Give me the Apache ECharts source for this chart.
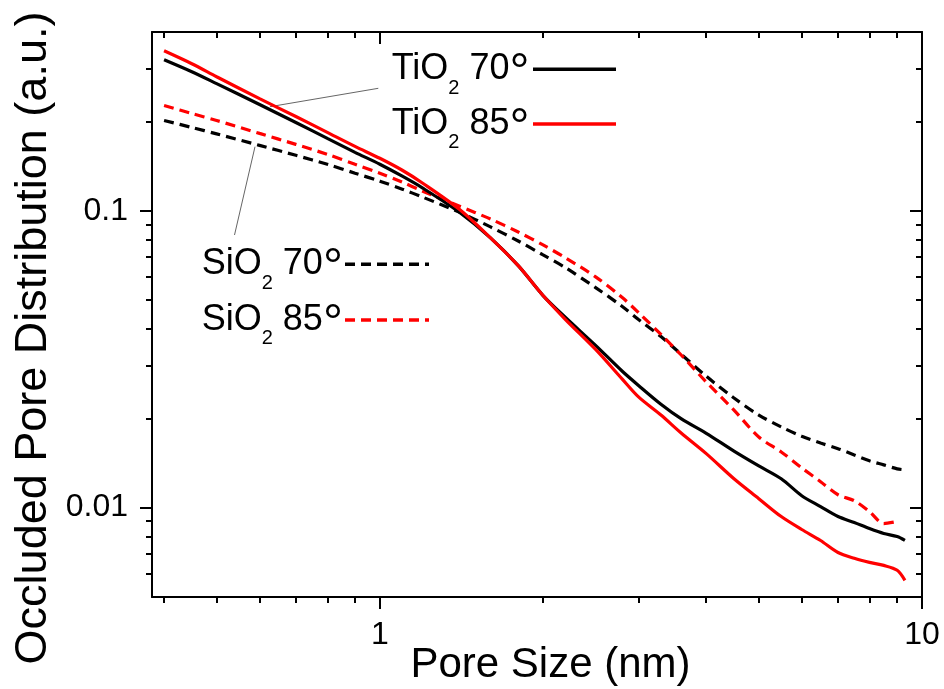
<!DOCTYPE html>
<html><head><meta charset="utf-8">
<script src="https://cdn.jsdelivr.net/npm/echarts@6/dist/echarts.min.js"></script>
<style>html,body{margin:0;padding:0;background:#fff}#c{width:944px;height:689px}</style>
</head><body><div id="c"></div>
<script>
// ---- data ----
const poreSize = [0.4,0.45,0.5,0.6,0.7,0.8,0.9,1.0,1.1,1.2,1.4,1.6,1.8,2.0,2.2,2.5,2.8,3.0,3.3,3.6,4.0,4.5,5.0,5.5,6.0,6.5,7.0,7.5,8.0,8.5,9.0,9.3];
const tio2_70 = [0.3225,0.2939,0.2680,0.2279,0.1983,0.1752,0.1573,0.1434,0.1307,0.1192,0.0990,0.0810,0.0653,0.0518,0.0437,0.0352,0.0288,0.0258,0.0223,0.0199,0.0178,0.0155,0.01382,0.01251,0.01097,0.01008,0.00933,0.00891,0.00850,0.00818,0.00799,0.00775];
const tio2_85 = [0.3457,0.3127,0.2828,0.2386,0.2077,0.1836,0.1647,0.1502,0.1369,0.1238,0.1013,0.0810,0.0653,0.0518,0.0430,0.0341,0.0271,0.0236,0.0205,0.0178,0.0152,0.01251,0.01072,0.00933,0.00844,0.00775,0.00706,0.00675,0.00654,0.00639,0.00615,0.00569];
const sio2_70 = [0.2014,0.1908,0.1815,0.1660,0.1537,0.1434,0.1338,0.1258,0.1182,0.1111,0.0990,0.0882,0.0791,0.0710,0.0643,0.0551,0.0476,0.0430,0.0377,0.0328,0.0277,0.0234,0.0205,0.0187,0.0174,0.0165,0.0158,0.01505,0.01438,0.01393,0.01351,0.01341];
const sio2_85 = [0.2261,0.2126,0.2014,0.1822,0.1673,0.1549,0.1434,0.1338,0.1248,0.1164,0.1037,0.0938,0.0848,0.0767,0.0694,0.0599,0.0510,0.0454,0.0383,0.0326,0.0265,0.0213,0.0173,0.0154,0.01361,0.01223,0.01105,0.01055,0.00970,0.00884,0.00898,null];
const xMajorTicks = [1, 10];
const xMinorTicks = [0.4,0.5,0.6,0.7,0.8,0.9,2,3,4,5,6,7,8,9];
const yMajorTicks = [0.01, 0.1];
const yMinorTicks = [0.006,0.007,0.008,0.009,0.02,0.03,0.04,0.05,0.06,0.07,0.08,0.09,0.2,0.3];
const xTitle = 'Pore Size (nm)';
const yTitle = 'Occluded Pore Distribution (a.u.)';

const FONT = '"Liberation Sans", Arial, Helvetica, sans-serif';
const K = 0.3465; // canvas 'middle' to alphabetic baseline, fraction of font size
const mctx = document.createElement('canvas').getContext('2d');
function measure(t, s) { mctx.font = s + 'px ' + FONT; return mctx.measureText(t).width; }

function pairs(ys) { return poreSize.map((x, i) => [x, ys[i]]); }

function composite(x0, base, parts) {
  const els = []; let x = x0;
  parts.forEach(p => {
    els.push({type:'text', silent:true, x: x, y: base + (p.dy || 0) - K * p.s,
      style:{text:p.t, fontSize:p.s, fontFamily:FONT, fill:'#000', align:'left', verticalAlign:'middle', textAlign:'left', textVerticalAlign:'middle'}});
    x += measure(p.t, p.s);
  });
  return els;
}
function legendRow(x0, lineY, chem, angle, color, dashed, lx1, lx2) {
  const base = lineY + 12.4;
  const els = composite(x0, base, [
    {t:chem, s:36}, {t:'2', s:20, dy:13.3}, {t:' ' + angle, s:36}, {t:'\u00B0', s:50, dy:10}
  ]);
  els.push({type:'line', silent:true, shape:{x1:lx1, y1:lineY, x2:lx2, y2:lineY},
    style:{stroke:color, lineWidth:3.5, lineDash: dashed ? [10,6] : null}});
  return els;
}

function majorX(pos, inside) {
  return {type:'log', logBase:10, min:0.38, max:10, position:pos,
    axisLine:{show:true, onZero:false, lineStyle:{color:'#000', width:2}},
    axisTick:{show:true, inside:inside, length:12, customValues:xMajorTicks, lineStyle:{color:'#000', width:2}},
    axisLabel:{show:!inside, customValues:xMajorTicks, margin:22, fontSize:32, fontFamily:FONT, color:'#000',
      formatter: v => String(Math.pow(10, Math.round(Math.log10(v))))},
    splitLine:{show:false}, minorTick:{show:false}};
}
function minorX(pos, inside) {
  return {type:'log', logBase:10, min:0.38, max:10, position:pos,
    axisLine:{show:false, onZero:false},
    axisTick:{show:true, inside:inside, length:6, customValues:xMinorTicks, lineStyle:{color:'#000', width:2}},
    axisLabel:{show:false}, splitLine:{show:false}};
}
function majorY(pos, inside) {
  return {type:'log', logBase:10, min:0.005, max:0.4, position:pos,
    axisLine:{show:true, onZero:false, lineStyle:{color:'#000', width:2}},
    axisTick:{show:true, inside:inside, length:12, customValues:yMajorTicks, lineStyle:{color:'#000', width:2}},
    axisLabel:{show:!inside, customValues:yMajorTicks, margin:24, fontSize:32, fontFamily:FONT, color:'#000',
      formatter: v => { const e = Math.round(Math.log10(v)); return e === -1 ? '0.1' : e === -2 ? '0.01' : String(v); }},
    splitLine:{show:false}, minorTick:{show:false}};
}
function minorY(pos, inside) {
  return {type:'log', logBase:10, min:0.005, max:0.4, position:pos,
    axisLine:{show:false, onZero:false},
    axisTick:{show:true, inside:inside, length:6, customValues:yMinorTicks, lineStyle:{color:'#000', width:2}},
    axisLabel:{show:false}, splitLine:{show:false}};
}

function lineSeries(name, ys, color, dashed) {
  return {name:name, type:'line', xAxisIndex:0, yAxisIndex:0, data:pairs(ys), showSymbol:false, symbol:'none',
    smooth:0.3, connectNulls:false,
    lineStyle:{color:color, width:3.2, type: dashed ? [10,6] : 'solid'}, itemStyle:{color:color}};
}

const chart = echarts.init(document.getElementById('c'), null, {renderer:'canvas'});
const graphics = [].concat(
  legendRow(391.7, 69.3, 'TiO', '70', '#000', false, 533, 616),
  legendRow(391.7, 124, 'TiO', '85', '#ff0000', false, 533, 616),
  legendRow(201.7, 264.3, 'SiO', '70', '#000', true, 345, 429),
  legendRow(201.7, 320, 'SiO', '85', '#ff0000', true, 345, 429),
  [
    {type:'line', silent:true, shape:{x1:378.3, y1:88.3, x2:270, y2:106.7}, style:{stroke:'#666', lineWidth:1}},
    {type:'line', silent:true, shape:{x1:255, y1:146.7, x2:234.5, y2:235}, style:{stroke:'#666', lineWidth:1}},
    {type:'text', silent:true, x:550.5, y:680 - K*42, style:{text:xTitle, fontSize:42, fontFamily:FONT, fill:'#000', align:'center', verticalAlign:'middle', textAlign:'center', textVerticalAlign:'middle'}},
    {type:'text', silent:true, x:33.5, y:338, rotation:Math.PI/2, style:{text:yTitle, fontSize:45, fontFamily:FONT, fill:'#000', align:'center', verticalAlign:'middle', textAlign:'center', textVerticalAlign:'middle'}}
  ]
);

chart.setOption({
  animation:false,
  backgroundColor:'#fff',
  grid:{left:152, right:22, top:32, bottom:92, containLabel:false},
  xAxis:[majorX('bottom', false), minorX('bottom', false), majorX('top', true), minorX('top', true)],
  yAxis:[majorY('left', false), minorY('left', false), majorY('right', true), minorY('right', true)],
  series:[
    lineSeries('SiO2 70\u00B0', sio2_70, '#000', true),
    lineSeries('SiO2 85\u00B0', sio2_85, '#ff0000', true),
    lineSeries('TiO2 70\u00B0', tio2_70, '#000', false),
    lineSeries('TiO2 85\u00B0', tio2_85, '#ff0000', false)
  ],
  graphic:graphics
});
</script></body></html>
